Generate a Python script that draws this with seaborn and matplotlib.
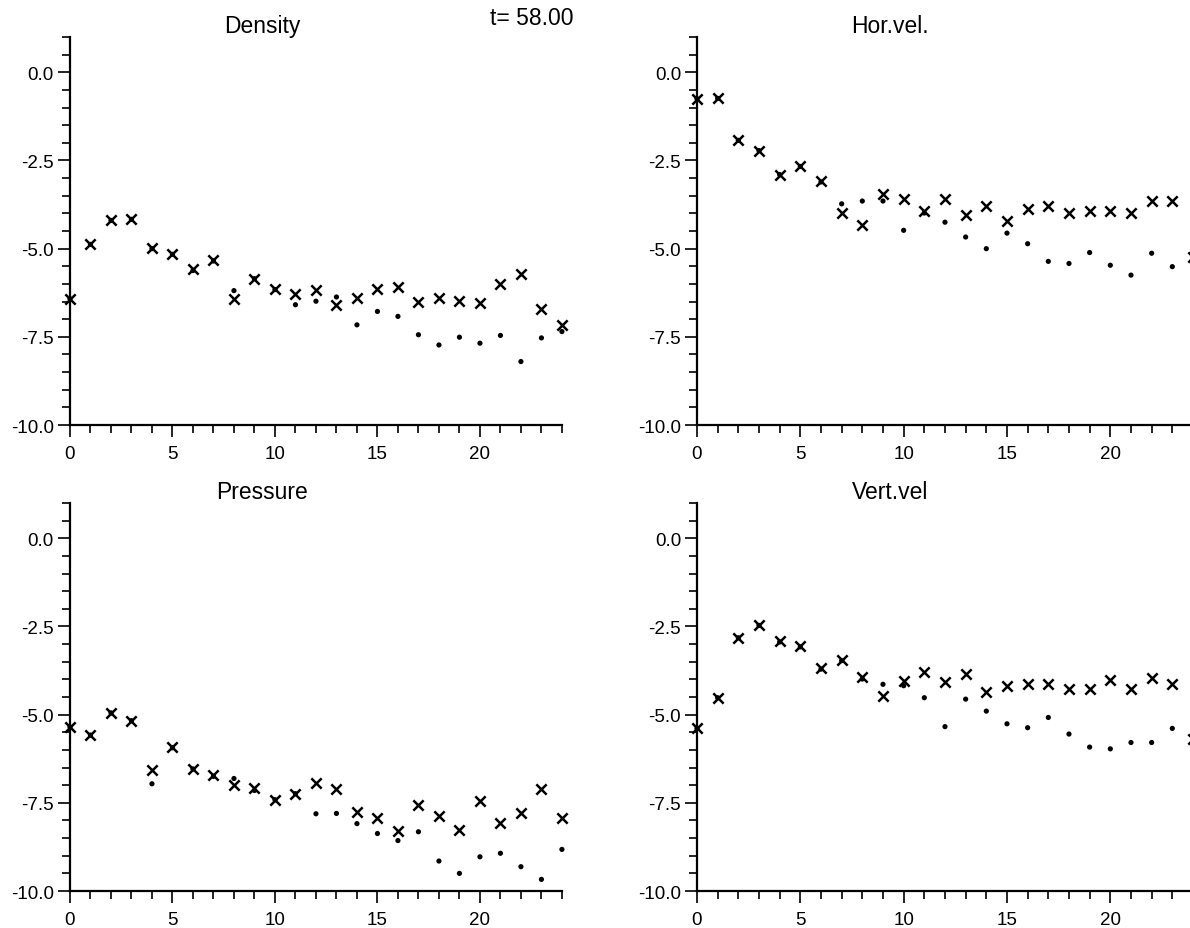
import matplotlib
matplotlib.use("Agg")
import matplotlib.pyplot as plt
import pandas as pd
import seaborn as sns
from matplotlib.ticker import MultipleLocator

# grid index along the x axis
steps = list(range(25))

# values: "x" series and "dot" series per panel
density_x = [-6.42, -4.88, -4.20, -4.17, -4.97, -5.14, -5.59, -5.33, -6.44, -5.85,
             -6.14, -6.28, -6.18, -6.59, -6.40, -6.14, -6.09, -6.52, -6.40, -6.47,
             -6.53, -6.01, -5.71, -6.70, -7.16]
density_dot = [-6.42, -4.88, -4.20, -4.17, -5.00, -5.16, -5.62, -5.35, -6.19, -5.85,
               -6.16, -6.59, -6.49, -6.37, -7.16, -6.78, -6.92, -7.44, -7.73, -7.51,
               -7.68, -7.46, -8.20, -7.53, -7.35]

horvel_x = [-0.75, -0.74, -1.93, -2.22, -2.90, -2.67, -3.09, -3.98, -4.34, -3.44,
            -3.60, -3.93, -3.60, -4.06, -3.80, -4.22, -3.89, -3.80, -3.99, -3.92,
            -3.92, -3.99, -3.66, -3.66, -5.25]
horvel_dot = [-0.75, -0.74, -1.93, -2.22, -2.90, -2.67, -3.11, -3.73, -3.65, -3.65,
              -4.48, -3.99, -4.25, -4.67, -5.00, -4.56, -4.86, -5.36, -5.42, -5.11,
              -5.47, -5.75, -5.13, -5.51, -5.25]

pressure_x = [-5.35, -5.58, -4.95, -5.17, -6.56, -5.92, -6.54, -6.70, -7.00, -7.08,
              -7.41, -7.24, -6.95, -7.12, -7.75, -7.94, -8.30, -7.57, -7.88, -8.27,
              -7.45, -8.08, -7.78, -7.12, -7.92]
pressure_dot = [-5.35, -5.58, -4.95, -5.17, -6.96, -5.94, -6.54, -6.75, -6.81, -7.15,
                -7.41, -7.24, -7.81, -7.80, -8.09, -8.37, -8.57, -8.32, -9.15, -9.50,
                -9.03, -8.93, -9.31, -9.67, -8.82]

vertvel_x = [-5.39, -4.52, -2.82, -2.47, -2.91, -3.05, -3.67, -3.44, -3.93, -4.46,
             -4.04, -3.79, -4.07, -3.86, -4.35, -4.19, -4.13, -4.14, -4.26, -4.28,
             -4.02, -4.28, -3.95, -4.13, -5.70]
vertvel_dot = [-5.39, -4.52, -2.82, -2.47, -2.94, -3.08, -3.71, -3.47, -3.99, -4.14,
               -4.18, -4.52, -5.34, -4.56, -4.90, -5.26, -5.37, -5.08, -5.55, -5.92,
               -5.97, -5.79, -5.79, -5.39, -5.72]

titles = ["Density", "Hor.vel.", "Pressure", "Vert.vel"]
time_label = "t= 58.00"

sns.set_style("ticks")
plt.rcParams["font.family"] = ["Liberation Sans", "DejaVu Sans"]
plt.rcParams["text.color"] = "black"

fig = plt.figure(figsize=(11.9, 9.29), dpi=100)

# axes boxes in figure fractions (right column runs off the page like the scan)
boxes = [
    [0.0588, 0.5414, 0.4134, 0.4177],
    [0.5857, 0.5414, 0.4168, 0.4177],
    [0.0588, 0.0398, 0.4134, 0.4177],
    [0.5857, 0.0398, 0.4168, 0.4177],
]
series = [
    (density_x, density_dot),
    (horvel_x, horvel_dot),
    (pressure_x, pressure_dot),
    (vertvel_x, vertvel_dot),
]

for box, title, (xs, dots) in zip(boxes, titles, series):
    ax = fig.add_axes(box)
    df = pd.DataFrame({"step": steps, "cross": xs, "dot": dots})
    sns.scatterplot(data=df, x="step", y="dot", ax=ax, marker="o", s=14,
                    color="black", edgecolor="none", clip_on=False, zorder=3)
    sns.scatterplot(data=df, x="step", y="cross", ax=ax, marker="x", s=55,
                    color="black", linewidth=1.8, clip_on=False, zorder=4)
    ax.set_xlim(0, 24)
    ax.set_ylim(-10, 1.0)
    ax.set_xlabel("")
    ax.set_ylabel("")
    ax.xaxis.set_major_locator(MultipleLocator(5))
    ax.xaxis.set_minor_locator(MultipleLocator(1))
    ax.yaxis.set_major_locator(MultipleLocator(2.5))
    ax.yaxis.set_minor_locator(MultipleLocator(0.5))
    ax.yaxis.set_major_formatter(plt.FormatStrFormatter("%.1f"))
    sns.despine(ax=ax)
    for side in ["left", "bottom"]:
        ax.spines[side].set_linewidth(1.6)
        ax.spines[side].set_color("black")
    ax.tick_params(which="major", length=8.5, width=1.2, color="black",
                   labelsize=13.5, labelcolor="black")
    ax.tick_params(which="minor", length=5.5, width=1.2, color="black")
    ax.tick_params(axis="x", which="major", pad=6)
    ax.tick_params(axis="y", which="major", pad=3)
    ax.text(0.39, 1.0, title, transform=ax.transAxes, ha="center",
            va="bottom", fontsize=16.5, color="black")

fig.text(0.412, 0.9806, time_label, ha="left", va="center", fontsize=16.5,
         color="black")

plt.savefig("out.png", dpi=100)
plt.close()
